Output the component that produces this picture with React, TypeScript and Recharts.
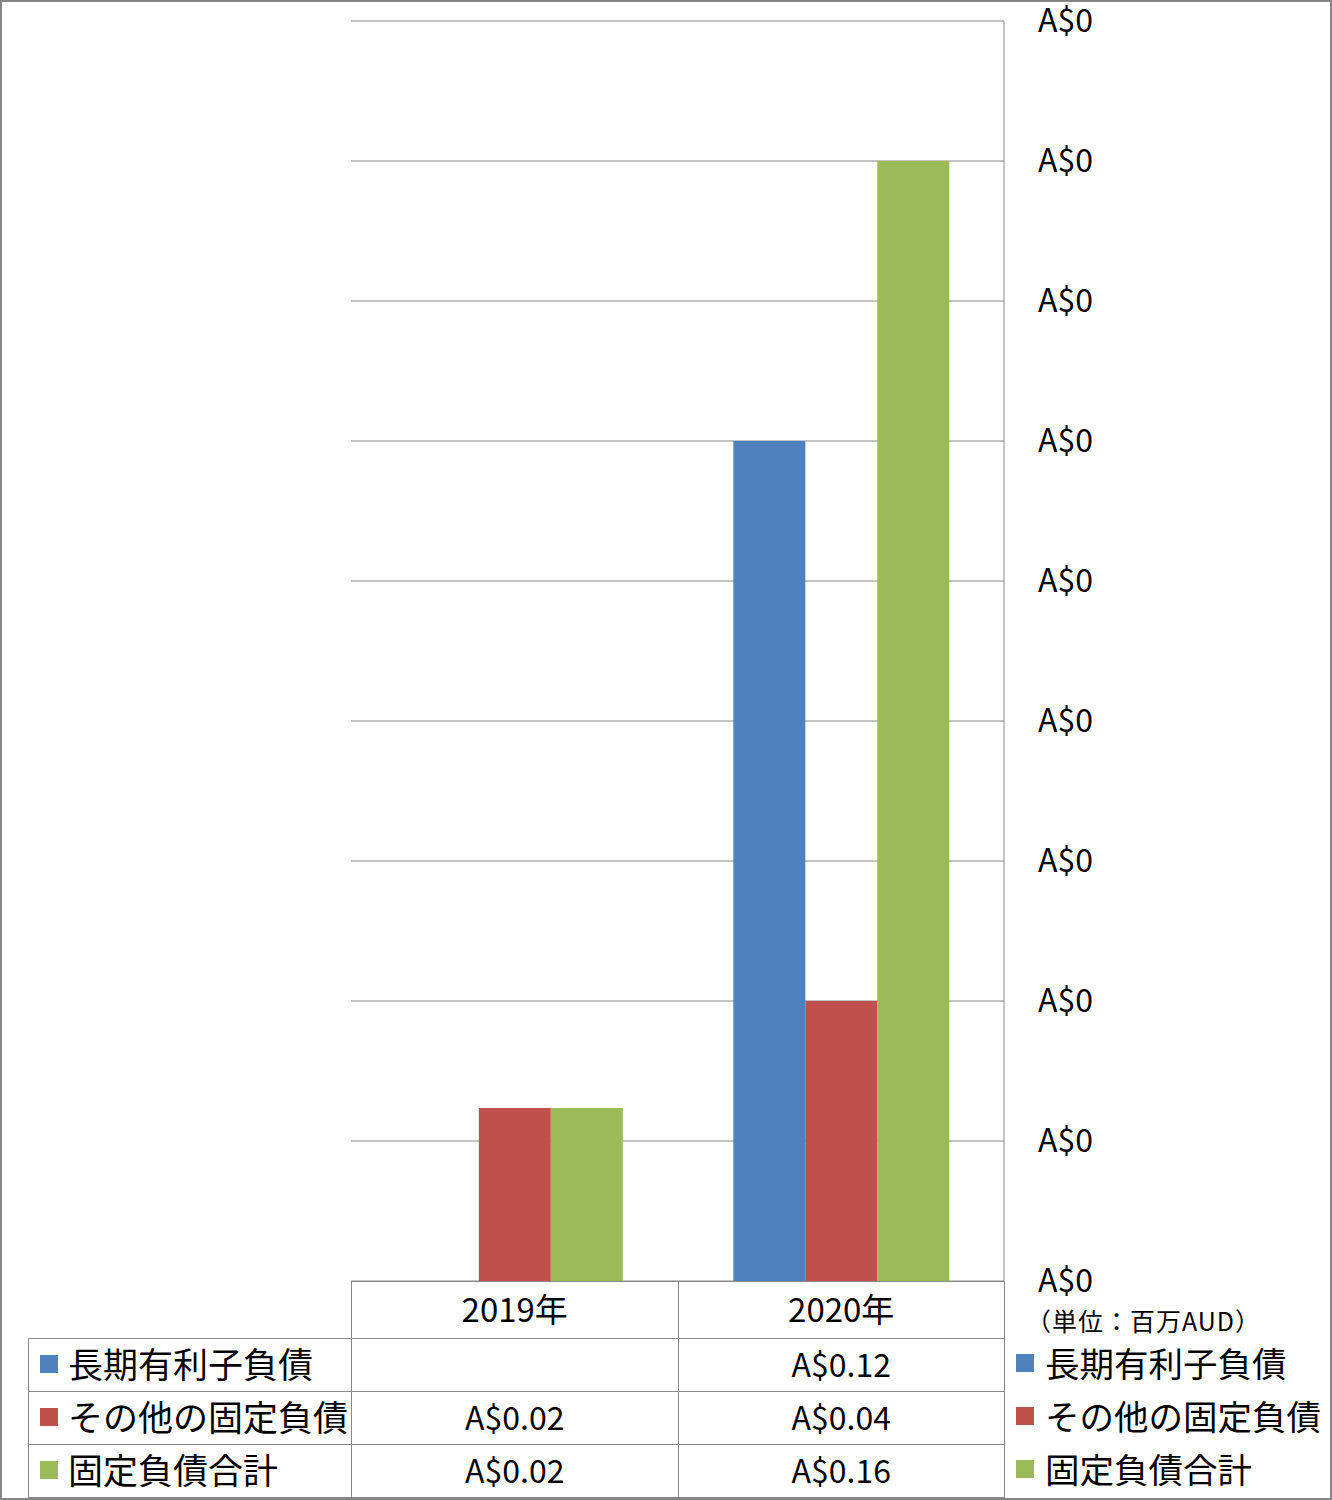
import { BarChart, Bar, XAxis, YAxis, CartesianGrid } from "recharts";

const categories = ["2019年", "2020年"];
const longTermDebt: (number | null)[] = [null, 0.12];
const otherFixed: (number | null)[] = [0.0247, 0.04];
const totalFixed: (number | null)[] = [0.0247, 0.16];
const seriesNames = ["長期有利子負債", "その他の固定負債", "固定負債合計"];
const seriesColors = ["#4F81BD", "#C0504D", "#9BBB59"];
const yTicks = [0, 0.02, 0.04, 0.06, 0.08, 0.1, 0.12, 0.14, 0.16, 0.18];
const unitNote = "（単位：百万AUD）";

const seriesValues = [longTermDebt, otherFixed, totalFixed];

const data = categories.map((name, i) => ({
  name,
  s0: longTermDebt[i],
  s1: otherFixed[i],
  s2: totalFixed[i],
}));

const W = 1332;
const H = 1500;
const plotLeft = 351;
const plotRight = 1004;
const plotTop = 21;
const plotBottom = 1281;
const axisWidth = 60;
const font = '"Noto Sans CJK JP", "Noto Sans", sans-serif';
const lineColor = "#888888";
const headerH = 57;
const rowH = 53;
const labelColLeft = 28;

const fmt = (v: number | null) => (v == null ? "" : `A$${v.toFixed(2)}`);

type CellProps = {
  x: number;
  y: number;
  w: number;
  h: number;
  align?: "center" | "left";
  size?: number;
  children?: React.ReactNode;
};

function Cell({ x, y, w, h, align = "center", size = 32, children }: CellProps) {
  return (
    <div
      style={{
        position: "absolute",
        left: x,
        top: y,
        width: w + 1,
        height: h + 1,
        boxSizing: "border-box",
        border: `1px solid ${lineColor}`,
        paddingBottom: 5,
        display: "flex",
        alignItems: "center",
        justifyContent: align === "center" ? "center" : "flex-start",
        fontSize: size,
        color: "#000",
        whiteSpace: "nowrap",
      }}
    >
      {children}
    </div>
  );
}

export default function App() {
  const band = (plotRight - plotLeft) / categories.length;

  return (
    <div
      style={{
        position: "absolute",
        left: 0,
        top: 0,
        width: W,
        height: H,
        background: "#fff",
        fontFamily: font,
        overflow: "hidden",
      }}
    >
      <BarChart
        width={W}
        height={H}
        data={data}
        margin={{
          top: plotTop,
          left: plotLeft,
          right: W - plotRight - axisWidth,
          bottom: H - plotBottom,
        }}
        barCategoryGap="17.1%"
        barGap={0}
        style={{ overflow: "visible" }}
      >
        <CartesianGrid vertical={false} stroke={lineColor} strokeWidth={1} />
        <XAxis dataKey="name" hide />
        <YAxis
          orientation="right"
          width={axisWidth}
          domain={[0, 0.18]}
          ticks={yTicks}
          interval={0}
          tickLine={false}
          tickSize={0}
          tickMargin={34}
          axisLine={{ stroke: lineColor }}
          tick={{ fill: "#000", fontSize: 32, fontFamily: font }}
          tickFormatter={(v: number) => `A$${Math.round(v)}`}
        />
        {seriesNames.map((n, k) => (
          <Bar
            key={n}
            dataKey={`s${k}`}
            name={n}
            fill={seriesColors[k]}
            isAnimationActive={false}
          />
        ))}
      </BarChart>

      {/* data table under the plot */}
      {categories.map((c, i) => (
        <Cell key={c} x={plotLeft + i * band} y={plotBottom} w={band} h={headerH} size={33}>
          {c}
        </Cell>
      ))}
      {seriesNames.map((n, k) => {
        const y = plotBottom + headerH + k * rowH;
        return (
          <div key={n}>
            <Cell x={labelColLeft} y={y} w={plotLeft - labelColLeft} h={rowH} align="left" size={35}>
              <span
                style={{
                  display: "inline-block",
                  width: 18,
                  height: 18,
                  background: seriesColors[k],
                  marginLeft: 11,
                  marginRight: 10,
                  marginTop: 3,
                }}
              />
              <span>{n}</span>
            </Cell>
            {categories.map((c, i) => (
              <Cell key={c} x={plotLeft + i * band} y={y} w={band} h={rowH}>
                {fmt(seriesValues[k][i])}
              </Cell>
            ))}
          </div>
        );
      })}

      <div
        style={{
          position: "absolute",
          left: 1026,
          top: plotBottom + 23,
          fontSize: 25,
          lineHeight: "32px",
          letterSpacing: 1,
          color: "#000",
          whiteSpace: "nowrap",
        }}
      >
        {unitNote}
      </div>

      {seriesNames.map((n, k) => (
        <div
          key={n}
          style={{
            position: "absolute",
            left: plotRight + 12,
            top: plotBottom + headerH + k * rowH - 3,
            height: rowH,
            display: "flex",
            alignItems: "center",
            fontSize: 34.5,
            color: "#000",
            whiteSpace: "nowrap",
          }}
        >
          <span
            style={{
              display: "inline-block",
              width: 18,
              height: 18,
              background: seriesColors[k],
              marginRight: 11,
              marginTop: 3,
            }}
          />
          <span>{n}</span>
        </div>
      ))}

      <div
        style={{
          position: "absolute",
          left: 0,
          top: 0,
          width: W,
          height: H,
          boxSizing: "border-box",
          border: "2px solid #868686",
          pointerEvents: "none",
        }}
      />
    </div>
  );
}
